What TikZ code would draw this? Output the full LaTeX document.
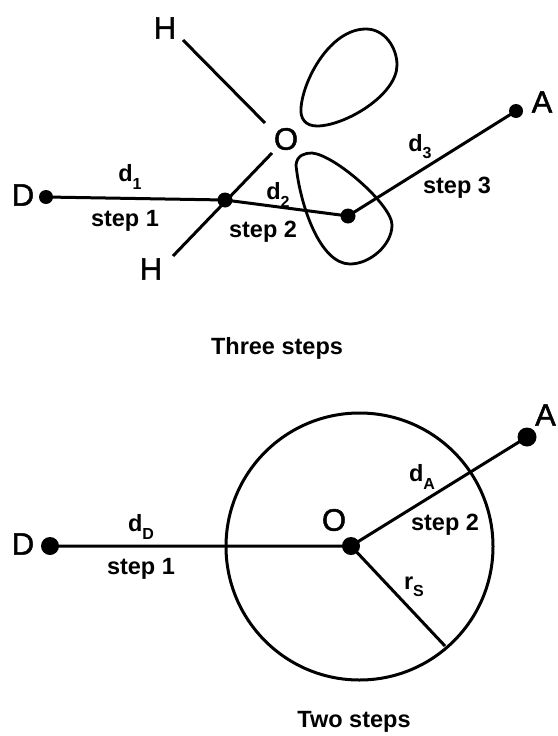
\documentclass[tikz,border=0pt]{standalone}
\usepackage{fontspec}
\setmainfont[FakeBold=1.5]{Liberation Sans}
\newfontfamily\lblfont{Liberation Sans Bold}
\newcommand{\sbs}[1]{\raisebox{-0.3em}{\fontsize{16}{16}\selectfont #1}}
\tikzset{
  dotn/.style={circle,fill=black,inner sep=0pt,minimum size=#1},
  lbl/.style={inner sep=0pt,font=\lblfont\fontsize{23.5}{26}\selectfont},
  bigl/.style={inner sep=0pt,font=\fontsize{31}{34}\selectfont},
  ln/.style={line width=3pt},
  lobe/.style={line width=2.8pt},
}
\begin{document}
\begin{tikzpicture}[x=1pt,y=-1pt,line join=round]
\useasboundingbox (0,0) rectangle (557,736);
\fill[white] (0,0) rectangle (557,736);
% top
\node[dotn=14pt] (D1) at (46,197) {};
\node[dotn=15pt] (M1) at (225,200) {};
\node[dotn=15pt] (C1) at (348,216) {};
\node[dotn=14pt] (A1) at (516,111) {};
\coordinate (Ou) at (272,153);
\coordinate (Hl) at (173,256);
\coordinate (Hu) at (183,40);
\coordinate (Oa) at (265,123);
\draw[ln] (D1.center) -- (M1.center) -- (C1.center) -- (A1.center);
\draw[ln] (Hl) -- (Ou);
\draw[ln] (Hu) -- (Oa);
\node[bigl] (Dt) at (23,195) {D};
\node[bigl] (Ot) at (286,139) {O};
\node[bigl] (H1) at (165,28) {H};
\node[bigl] (H2) at (151,269) {H};
\node[bigl] (At) at (542,102) {A};
\draw[lobe] (301,108) .. controls (303,80) and (330,29) .. (366,29) .. controls (385,29) and (397,48) .. (397,65) .. controls (397,95) and (345,126) .. (317,126) .. controls (305,126) and (300,118) .. (301,108) -- cycle;
\draw[lobe] (296,165) .. controls (297,155) and (305,153) .. (312,153) .. controls (335,155) and (392,205) .. (392,225) .. controls (392,245) and (370,264) .. (350,264) .. controls (320,264) and (300,205) .. (296,165) -- cycle;
\node[lbl] (d1) at (130,177) {d\sbs{1}};
\node[lbl] (s1) at (125,221) {step 1};
\node[lbl] (d2) at (278,195) {d\sbs{2}};
\node[lbl] (s2) at (263,232) {step 2};
\node[lbl] (d3) at (420,147) {d\sbs{3}};
\node[lbl] (s3) at (457,188) {step 3};
\node[lbl] (c1) at (277,348) {Three steps};
% bottom
\node[draw,circle,line width=3pt,minimum size=267pt,inner sep=0pt] (circ) at (359.5,546.5) {};
\node[dotn=18pt] (D2) at (50,546) {};
\node[dotn=18pt] (O2) at (351,546) {};
\node[dotn=19pt] (A2) at (527,437) {};
\coordinate (rse) at (445,646);
\draw[ln] (D2.center) -- (O2.center) -- (A2.center);
\draw[ln] (O2.center) -- (rse);
\node[bigl] (Dt2) at (23,544) {D};
\node[bigl] (Ot2) at (334,520) {O};
\node[bigl] (At2) at (545.5,415) {A};
\node[lbl] (dD) at (141,527) {d\sbs{D}};
\node[lbl] (s12) at (141,569) {step 1};
\node[lbl] (dA) at (422,477) {d\sbs{A}};
\node[lbl] (s22) at (445,525) {step 2};
\node[lbl] (rS) at (414,587) {r\sbs{S}};
\node[lbl] (c2) at (354,722) {Two steps};
\end{tikzpicture}
\end{document}
